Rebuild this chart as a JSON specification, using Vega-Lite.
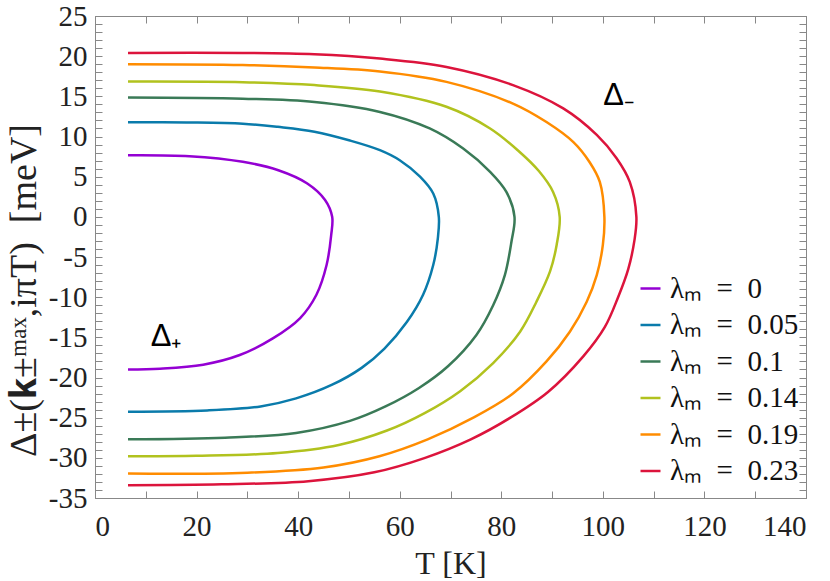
{
  "$schema": "https://vega.github.io/schema/vega-lite/v6.json",
  "width": 711,
  "height": 482,
  "autosize": "none",
  "padding": {"left": 95, "top": 16, "right": 24, "bottom": 83},
  "background": "white",
  "config": {
    "view": {"stroke": "#888", "strokeWidth": 1},
    "axis": {"grid": false, "domainColor": "#888", "tickColor": "#888", "tickSize": -7, "labelFont": "Liberation Serif", "labelFontSize": 29, "labelColor": "#222", "titleFont": "Liberation Serif", "titleFontSize": 32, "titleFontWeight": "normal", "titleColor": "#222"}
  },
  "layer": [
    {
      "data": {"values": [
        {"l": "λₘ\u2002=\u20020", "o": 1, "T": 6.5, "D": 7.67},
        {"l": "λₘ\u2002=\u20020", "o": 2, "T": 18.6, "D": 7.55},
        {"l": "λₘ\u2002=\u20020", "o": 3, "T": 29.1, "D": 6.85},
        {"l": "λₘ\u2002=\u20020", "o": 4, "T": 36.1, "D": 5.8},
        {"l": "λₘ\u2002=\u20020", "o": 5, "T": 41.8, "D": 4.15},
        {"l": "λₘ\u2002=\u20020", "o": 6, "T": 45.3, "D": 2.1},
        {"l": "λₘ\u2002=\u20020", "o": 7, "T": 46.7, "D": 0},
        {"l": "λₘ\u2002=\u20020", "o": 8, "T": 46.5, "D": -2.3},
        {"l": "λₘ\u2002=\u20020", "o": 9, "T": 45.6, "D": -6.0},
        {"l": "λₘ\u2002=\u20020", "o": 10, "T": 43.6, "D": -9.7},
        {"l": "λₘ\u2002=\u20020", "o": 11, "T": 40.4, "D": -12.6},
        {"l": "λₘ\u2002=\u20020", "o": 12, "T": 35.1, "D": -15.1},
        {"l": "λₘ\u2002=\u20020", "o": 13, "T": 28.5, "D": -17.2},
        {"l": "λₘ\u2002=\u20020", "o": 14, "T": 21.3, "D": -18.4},
        {"l": "λₘ\u2002=\u20020", "o": 15, "T": 12.8, "D": -18.9},
        {"l": "λₘ\u2002=\u20020", "o": 16, "T": 6.5, "D": -19.0},

        {"l": "λₘ\u2002=\u20020.05", "o": 1, "T": 6.5, "D": 11.78},
        {"l": "λₘ\u2002=\u20020.05", "o": 2, "T": 18, "D": 11.75},
        {"l": "λₘ\u2002=\u20020.05", "o": 3, "T": 29.1, "D": 11.6},
        {"l": "λₘ\u2002=\u20020.05", "o": 4, "T": 36, "D": 11.2},
        {"l": "λₘ\u2002=\u20020.05", "o": 5, "T": 43.2, "D": 10.6},
        {"l": "λₘ\u2002=\u20020.05", "o": 6, "T": 50.2, "D": 9.5},
        {"l": "λₘ\u2002=\u20020.05", "o": 7, "T": 56.1, "D": 8.3},
        {"l": "λₘ\u2002=\u20020.05", "o": 8, "T": 60, "D": 7.05},
        {"l": "λₘ\u2002=\u20020.05", "o": 9, "T": 64, "D": 5.0},
        {"l": "λₘ\u2002=\u20020.05", "o": 10, "T": 66.6, "D": 2.9},
        {"l": "λₘ\u2002=\u20020.05", "o": 11, "T": 67.7, "D": 0},
        {"l": "λₘ\u2002=\u20020.05", "o": 12, "T": 67.5, "D": -2.7},
        {"l": "λₘ\u2002=\u20020.05", "o": 13, "T": 66.6, "D": -6.0},
        {"l": "λₘ\u2002=\u20020.05", "o": 14, "T": 64.6, "D": -9.7},
        {"l": "λₘ\u2002=\u20020.05", "o": 15, "T": 61.4, "D": -13.1},
        {"l": "λₘ\u2002=\u20020.05", "o": 16, "T": 57.0, "D": -16.4},
        {"l": "λₘ\u2002=\u20020.05", "o": 17, "T": 52.5, "D": -18.8},
        {"l": "λₘ\u2002=\u20020.05", "o": 18, "T": 46.7, "D": -20.9},
        {"l": "λₘ\u2002=\u20020.05", "o": 19, "T": 39.6, "D": -22.6},
        {"l": "λₘ\u2002=\u20020.05", "o": 20, "T": 32.6, "D": -23.6},
        {"l": "λₘ\u2002=\u20020.05", "o": 21, "T": 22.1, "D": -24.1},
        {"l": "λₘ\u2002=\u20020.05", "o": 22, "T": 6.5, "D": -24.25},

        {"l": "λₘ\u2002=\u20020.1", "o": 1, "T": 6.5, "D": 14.85},
        {"l": "λₘ\u2002=\u20020.1", "o": 2, "T": 29.1, "D": 14.7},
        {"l": "λₘ\u2002=\u20020.1", "o": 3, "T": 43.2, "D": 14.3},
        {"l": "λₘ\u2002=\u20020.1", "o": 4, "T": 56.1, "D": 13.06},
        {"l": "λₘ\u2002=\u20020.1", "o": 5, "T": 65.9, "D": 11.0},
        {"l": "λₘ\u2002=\u20020.1", "o": 6, "T": 72.5, "D": 8.5},
        {"l": "λₘ\u2002=\u20020.1", "o": 7, "T": 77.8, "D": 5.6},
        {"l": "λₘ\u2002=\u20020.1", "o": 8, "T": 81.0, "D": 3.1},
        {"l": "λₘ\u2002=\u20020.1", "o": 9, "T": 82.6, "D": 0},
        {"l": "λₘ\u2002=\u20020.1", "o": 10, "T": 82.0, "D": -3.1},
        {"l": "λₘ\u2002=\u20020.1", "o": 11, "T": 80.7, "D": -7.25},
        {"l": "λₘ\u2002=\u20020.1", "o": 12, "T": 78.4, "D": -11.0},
        {"l": "λₘ\u2002=\u20020.1", "o": 13, "T": 75.1, "D": -14.7},
        {"l": "λₘ\u2002=\u20020.1", "o": 14, "T": 69.5, "D": -18.6},
        {"l": "λₘ\u2002=\u20020.1", "o": 15, "T": 63.8, "D": -21.3},
        {"l": "λₘ\u2002=\u20020.1", "o": 16, "T": 57.2, "D": -23.6},
        {"l": "λₘ\u2002=\u20020.1", "o": 17, "T": 50.2, "D": -25.4},
        {"l": "λₘ\u2002=\u20020.1", "o": 18, "T": 39.6, "D": -26.9},
        {"l": "λₘ\u2002=\u20020.1", "o": 19, "T": 25.6, "D": -27.5},
        {"l": "λₘ\u2002=\u20020.1", "o": 20, "T": 6.5, "D": -27.7},

        {"l": "λₘ\u2002=\u20020.14", "o": 1, "T": 6.5, "D": 16.84},
        {"l": "λₘ\u2002=\u20020.14", "o": 2, "T": 29.1, "D": 16.76},
        {"l": "λₘ\u2002=\u20020.14", "o": 3, "T": 43.2, "D": 16.4},
        {"l": "λₘ\u2002=\u20020.14", "o": 4, "T": 56.1, "D": 15.6},
        {"l": "λₘ\u2002=\u20020.14", "o": 5, "T": 69.2, "D": 13.7},
        {"l": "λₘ\u2002=\u20020.14", "o": 6, "T": 77.8, "D": 11.0},
        {"l": "λₘ\u2002=\u20020.14", "o": 7, "T": 83.4, "D": 8.2},
        {"l": "λₘ\u2002=\u20020.14", "o": 8, "T": 87.4, "D": 5.7},
        {"l": "λₘ\u2002=\u20020.14", "o": 9, "T": 90.2, "D": 3.1},
        {"l": "λₘ\u2002=\u20020.14", "o": 10, "T": 91.5, "D": 0},
        {"l": "λₘ\u2002=\u20020.14", "o": 11, "T": 90.9, "D": -3.5},
        {"l": "λₘ\u2002=\u20020.14", "o": 12, "T": 89.6, "D": -6.8},
        {"l": "λₘ\u2002=\u20020.14", "o": 13, "T": 86.9, "D": -10.6},
        {"l": "λₘ\u2002=\u20020.14", "o": 14, "T": 83.7, "D": -14.3},
        {"l": "λₘ\u2002=\u20020.14", "o": 15, "T": 78.4, "D": -18.2},
        {"l": "λₘ\u2002=\u20020.14", "o": 16, "T": 71.9, "D": -21.7},
        {"l": "λₘ\u2002=\u20020.14", "o": 17, "T": 65.0, "D": -24.4},
        {"l": "λₘ\u2002=\u20020.14", "o": 18, "T": 57.5, "D": -26.6},
        {"l": "λₘ\u2002=\u20020.14", "o": 19, "T": 48.0, "D": -28.4},
        {"l": "λₘ\u2002=\u20020.14", "o": 20, "T": 36.0, "D": -29.4},
        {"l": "λₘ\u2002=\u20020.14", "o": 21, "T": 20.0, "D": -29.75},
        {"l": "λₘ\u2002=\u20020.14", "o": 22, "T": 6.5, "D": -29.8},

        {"l": "λₘ\u2002=\u20020.19", "o": 1, "T": 6.5, "D": 19.0},
        {"l": "λₘ\u2002=\u20020.19", "o": 2, "T": 29.1, "D": 18.9},
        {"l": "λₘ\u2002=\u20020.19", "o": 3, "T": 43.2, "D": 18.6},
        {"l": "λₘ\u2002=\u20020.19", "o": 4, "T": 56.1, "D": 18.1},
        {"l": "λₘ\u2002=\u20020.19", "o": 5, "T": 69.2, "D": 16.8},
        {"l": "λₘ\u2002=\u20020.19", "o": 6, "T": 82.3, "D": 14.1},
        {"l": "λₘ\u2002=\u20020.19", "o": 7, "T": 88.9, "D": 11.8},
        {"l": "λₘ\u2002=\u20020.19", "o": 8, "T": 94.2, "D": 9.3},
        {"l": "λₘ\u2002=\u20020.19", "o": 9, "T": 97.4, "D": 6.8},
        {"l": "λₘ\u2002=\u20020.19", "o": 10, "T": 99.4, "D": 4.35},
        {"l": "λₘ\u2002=\u20020.19", "o": 11, "T": 100.3, "D": 0},
        {"l": "λₘ\u2002=\u20020.19", "o": 12, "T": 100.0, "D": -3.5},
        {"l": "λₘ\u2002=\u20020.19", "o": 13, "T": 98.8, "D": -7.25},
        {"l": "λₘ\u2002=\u20020.19", "o": 14, "T": 96.8, "D": -10.6},
        {"l": "λₘ\u2002=\u20020.19", "o": 15, "T": 93.5, "D": -14.3},
        {"l": "λₘ\u2002=\u20020.19", "o": 16, "T": 88.9, "D": -18.0},
        {"l": "λₘ\u2002=\u20020.19", "o": 17, "T": 82.3, "D": -22.0},
        {"l": "λₘ\u2002=\u20020.19", "o": 18, "T": 74.5, "D": -25.0},
        {"l": "λₘ\u2002=\u20020.19", "o": 19, "T": 65.5, "D": -27.7},
        {"l": "λₘ\u2002=\u20020.19", "o": 20, "T": 56.0, "D": -29.8},
        {"l": "λₘ\u2002=\u20020.19", "o": 21, "T": 45.0, "D": -31.2},
        {"l": "λₘ\u2002=\u20020.19", "o": 22, "T": 30.0, "D": -31.85},
        {"l": "λₘ\u2002=\u20020.19", "o": 23, "T": 6.5, "D": -31.96},

        {"l": "λₘ\u2002=\u20020.23", "o": 1, "T": 6.5, "D": 20.4},
        {"l": "λₘ\u2002=\u20020.23", "o": 2, "T": 29.1, "D": 20.4},
        {"l": "λₘ\u2002=\u20020.23", "o": 3, "T": 43.2, "D": 20.24},
        {"l": "λₘ\u2002=\u20020.23", "o": 4, "T": 56.1, "D": 19.7},
        {"l": "λₘ\u2002=\u20020.23", "o": 5, "T": 69.2, "D": 18.66},
        {"l": "λₘ\u2002=\u20020.23", "o": 6, "T": 82.3, "D": 16.4},
        {"l": "λₘ\u2002=\u20020.23", "o": 7, "T": 92.2, "D": 13.5},
        {"l": "λₘ\u2002=\u20020.23", "o": 8, "T": 98.8, "D": 10.2},
        {"l": "λₘ\u2002=\u20020.23", "o": 9, "T": 102.7, "D": 7.3},
        {"l": "λₘ\u2002=\u20020.23", "o": 10, "T": 105.3, "D": 4.35},
        {"l": "λₘ\u2002=\u20020.23", "o": 11, "T": 106.6, "D": 0},
        {"l": "λₘ\u2002=\u20020.23", "o": 12, "T": 106.2, "D": -3.0},
        {"l": "λₘ\u2002=\u20020.23", "o": 13, "T": 105.0, "D": -6.5},
        {"l": "λₘ\u2002=\u20020.23", "o": 14, "T": 103.0, "D": -10.0},
        {"l": "λₘ\u2002=\u20020.23", "o": 15, "T": 100.4, "D": -13.7},
        {"l": "λₘ\u2002=\u20020.23", "o": 16, "T": 96.1, "D": -17.4},
        {"l": "λₘ\u2002=\u20020.23", "o": 17, "T": 89.2, "D": -21.8},
        {"l": "λₘ\u2002=\u20020.23", "o": 18, "T": 81.8, "D": -25.0},
        {"l": "λₘ\u2002=\u20020.23", "o": 19, "T": 74.0, "D": -27.7},
        {"l": "λₘ\u2002=\u20020.23", "o": 20, "T": 65.0, "D": -30.0},
        {"l": "λₘ\u2002=\u20020.23", "o": 21, "T": 55.0, "D": -31.8},
        {"l": "λₘ\u2002=\u20020.23", "o": 22, "T": 42.0, "D": -32.9},
        {"l": "λₘ\u2002=\u20020.23", "o": 23, "T": 25.0, "D": -33.3},
        {"l": "λₘ\u2002=\u20020.23", "o": 24, "T": 6.5, "D": -33.4}
      ]},
      "mark": {"type": "line", "strokeWidth": 2.5, "interpolate": "catmull-rom", "clip": true},
      "encoding": {
        "x": {"field": "T", "type": "quantitative", "scale": {"domain": [0, 140], "nice": false},
          "axis": {"values": [0, 10, 20, 30, 40, 50, 60, 70, 80, 90, 100, 110, 120, 130, 140], "labelExpr": "datum.value % 20 == 0 ? datum.value + '' : ''", "labelFont": "Liberation Serif", "labelPadding": 21, "title": "T [K]", "titlePadding": 7}},
        "y": {"field": "D", "type": "quantitative", "scale": {"domain": [-35, 25], "nice": false},
          "axis": {"values": [-35, -34, -33, -32, -31, -30, -29, -28, -27, -26, -25, -24, -23, -22, -21, -20, -19, -18, -17, -16, -15, -14, -13, -12, -11, -10, -9, -8, -7, -6, -5, -4, -3, -2, -1, 0, 1, 2, 3, 4, 5, 6, 7, 8, 9, 10, 11, 12, 13, 14, 15, 16, 17, 18, 19, 20, 21, 22, 23, 24, 25], "labelExpr": "datum.value % 5 == 0 ? datum.value + '' : ''", "labelFont": "Liberation Serif", "labelPadding": 15, "title": "Δ±(𝐤±ᵐᵃˣ,iπT)\u2002[meV]", "titleFontSize": 38, "titlePadding": 5, "titleY": 274}},
        "color": {"field": "l", "type": "nominal",
          "scale": {"domain": ["λₘ\u2002=\u20020", "λₘ\u2002=\u20020.05", "λₘ\u2002=\u20020.1", "λₘ\u2002=\u20020.14", "λₘ\u2002=\u20020.19", "λₘ\u2002=\u20020.23"], "range": ["#9400d3", "#0a7bab", "#3a7a57", "#b1c21e", "#ff8c00", "#dc143c"]},
          "legend": {"orient": "none", "legendX": 541, "legendY": 258, "title": null, "symbolType": "stroke", "symbolStrokeWidth": 2.5, "symbolSize": 400, "labelFont": "Liberation Serif", "labelFontSize": 29, "labelColor": "#111", "rowPadding": 6.5, "labelOffset": 5, "padding": 0, "labelLimit": 300}},
        "order": {"field": "o", "type": "quantitative"}
      }
    },
    {
      "mark": {"type": "rule", "color": "black", "strokeWidth": 2},
      "encoding": {
        "y": {"datum": 0, "type": "quantitative", "scale": {"domain": [-35, 25], "nice": false},
          "axis": {"orient": "right", "values": [-35, -34, -33, -32, -31, -30, -29, -28, -27, -26, -25, -24, -23, -22, -21, -20, -19, -18, -17, -16, -15, -14, -13, -12, -11, -10, -9, -8, -7, -6, -5, -4, -3, -2, -1, 0, 1, 2, 3, 4, 5, 6, 7, 8, 9, 10, 11, 12, 13, 14, 15, 16, 17, 18, 19, 20, 21, 22, 23, 24, 25], "labels": false, "title": null}}
      }
    },
    {
      "data": {"values": [
        {"T": 103.1, "D": 15.1, "t": "Δ₋"},
        {"T": 14.0, "D": -14.9, "t": "Δ₊"}
      ]},
      "mark": {"type": "text", "font": "Liberation Sans", "fontSize": 31, "color": "black", "align": "center", "baseline": "middle"},
      "encoding": {
        "x": {"field": "T", "type": "quantitative", "scale": {"domain": [0, 140], "nice": false},
          "axis": {"orient": "top", "values": [0, 10, 20, 30, 40, 50, 60, 70, 80, 90, 100, 110, 120, 130, 140], "labels": false, "title": null}},
        "y": {"field": "D", "type": "quantitative", "scale": {"domain": [-35, 25], "nice": false}, "axis": null},
        "text": {"field": "t"}
      }
    }
  ],
  "resolve": {"axis": {"x": "independent", "y": "independent"}}
}
